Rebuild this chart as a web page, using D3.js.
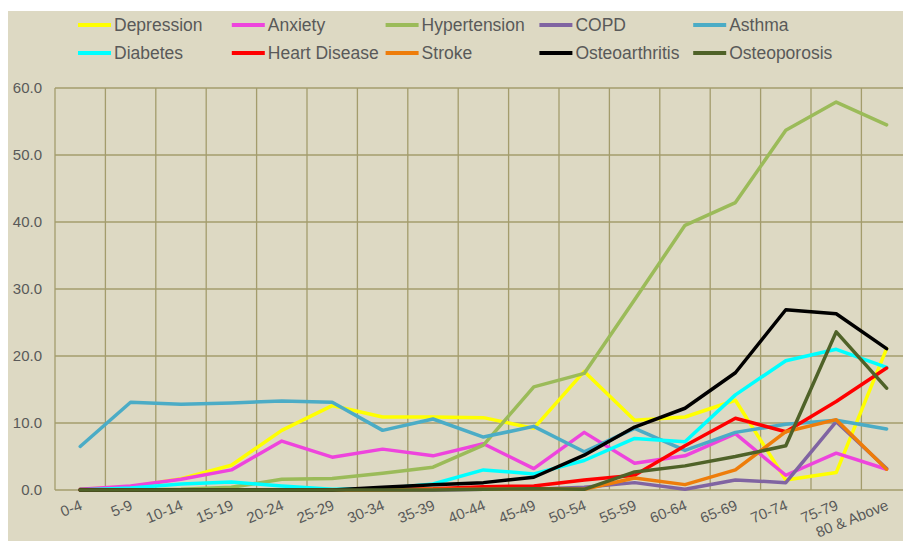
<!DOCTYPE html>
<html lang="en">
<head>
    <meta charset="UTF-8">
    <title>Conditions by age group</title>
    <script src="https://d3js.org/d3.v7.min.js"></script>
    <style>
        body { margin: 0; background: #ffffff; }
        svg { display: block; font-family: "Liberation Sans", Arial, sans-serif; }
    </style>
</head>
<body>
<div id="chart"></div>
<script>
    var ageGroups = ["0-4", "5-9", "10-14", "15-19", "20-24", "25-29", "30-34", "35-39", "40-44",
        "45-49", "50-54", "55-59", "60-64", "65-69", "70-74", "75-79", "80 & Above"];
    var yTicks = [0, 10, 20, 30, 40, 50, 60];

    var depression     = [0.1, 0.5, 1.7, 3.7, 8.9, 12.6, 10.9, 10.9, 10.8, 9.2, 17.7, 10.4, 10.9, 13.4, 1.5, 2.6, 21.1];
    var anxiety        = [0.1, 0.6, 1.6, 3.0, 7.3, 4.9, 6.1, 5.1, 6.9, 3.2, 8.6, 4.0, 5.1, 8.4, 2.2, 5.5, 3.1];
    var hypertension   = [0.0, 0.0, 0.1, 0.4, 1.6, 1.7, 2.5, 3.4, 6.7, 15.4, 17.4, 28.4, 39.5, 42.9, 53.7, 57.9, 54.5];
    var copd           = [0.1, 0.0, 0.0, 0.0, 0.0, 0.0, 0.0, 0.0, 0.1, 0.1, 0.4, 1.1, 0.1, 1.5, 1.1, 10.2, 3.2];
    var asthma         = [6.5, 13.1, 12.8, 13.0, 13.3, 13.1, 8.9, 10.6, 7.9, 9.5, 5.7, 9.2, 5.9, 8.6, 9.8, 10.4, 9.1];
    var diabetes       = [0.0, 0.3, 0.9, 1.2, 0.6, 0.1, 0.2, 0.9, 3.0, 2.4, 4.4, 7.7, 7.2, 14.2, 19.3, 21.0, 18.3];
    var heartDisease   = [0.0, 0.0, 0.0, 0.0, 0.0, 0.0, 0.1, 0.2, 0.5, 0.6, 1.5, 2.2, 6.6, 10.7, 8.7, 13.2, 18.2];
    var stroke         = [0.0, 0.0, 0.0, 0.0, 0.0, 0.0, 0.0, 0.1, 0.1, 0.2, 0.1, 1.8, 0.8, 3.0, 8.7, 10.5, 3.1];
    var osteoarthritis = [0.0, 0.0, 0.0, 0.0, 0.0, 0.0, 0.4, 0.8, 1.1, 1.9, 5.2, 9.4, 12.2, 17.5, 26.9, 26.3, 21.1];
    var osteoporosis   = [0.0, 0.0, 0.0, 0.0, 0.0, 0.0, 0.0, 0.0, 0.1, 0.2, 0.1, 2.7, 3.6, 5.0, 6.6, 23.6, 15.2];

    var seriesNames  = ["Depression", "Anxiety", "Hypertension", "COPD", "Asthma",
        "Diabetes", "Heart Disease", "Stroke", "Osteoarthritis", "Osteoporosis"];
    var seriesValues = [depression, anxiety, hypertension, copd, asthma,
        diabetes, heartDisease, stroke, osteoarthritis, osteoporosis];
    var seriesColors = ["#ffff00", "#ee44dd", "#9bbb59", "#8064a2", "#4bacc6",
        "#00ffff", "#ff0000", "#ee7d0a", "#000000", "#4f6228"];

    var width = 903, height = 541;
    var textColor = "#595959";
    var gridColor = "#a39c6c";

    var svg = d3.select("#chart").append("svg")
        .attr("width", width)
        .attr("height", height);

    // chart background (white strip on top and left, like the original)
    svg.append("rect")
        .attr("x", 8)
        .attr("y", 11)
        .attr("width", width - 8)
        .attr("height", height - 11)
        .style("fill", "#ddd9c3");

    var x = d3.scaleBand()
        .domain(ageGroups)
        .range([55, 55 + 50.4 * ageGroups.length])
        .paddingInner(0)
        .paddingOuter(0);

    var y = d3.scaleLinear()
        .domain([0, 60])
        .range([490, 88]);

    var grid = svg.append("g");

    // horizontal gridlines
    grid.selectAll("line.h")
        .data(yTicks)
        .enter().append("line")
        .attr("class", "h")
        .attr("x1", x.range()[0])
        .attr("x2", x.range()[1])
        .attr("y1", function(d) { return y(d); })
        .attr("y2", function(d) { return y(d); })
        .style("stroke", gridColor)
        .style("stroke-width", 1.3);

    // vertical gridlines on the band edges
    grid.selectAll("line.v")
        .data(ageGroups)
        .enter().append("line")
        .attr("class", "v")
        .attr("x1", function(d) { return x(d); })
        .attr("x2", function(d) { return x(d); })
        .attr("y1", y(60))
        .attr("y2", y(0))
        .style("stroke", gridColor)
        .style("stroke-width", 1.3);

    var axisLeft = d3.axisLeft(y)
        .tickValues(yTicks)
        .tickSize(0)
        .tickPadding(0)
        .tickFormat(d3.format(".1f"));

    var gy = svg.append("g")
        .attr("transform", "translate(42,0)")
        .call(axisLeft);
    gy.select(".domain").remove();
    gy.selectAll("text")
        .style("font-size", "15px")
        .style("font-family", "Liberation Sans, Arial, sans-serif")
        .style("fill", textColor);

    var axisBottom = d3.axisBottom(x)
        .tickSize(0);

    var gx = svg.append("g")
        .attr("transform", "translate(0,490)")
        .call(axisBottom);
    gx.select(".domain").remove();
    gx.selectAll("text")
        .attr("x", 0)
        .attr("y", 0)
        .attr("dy", 0)
        .attr("text-anchor", "end")
        .attr("transform", "translate(3,19) rotate(-22)")
        .style("font-size", "15px")
        .style("font-family", "Liberation Sans, Arial, sans-serif")
        .style("fill", textColor);

    var line = d3.line()
        .x(function(d, i) { return x(ageGroups[i]) + x.bandwidth() / 2; })
        .y(function(d) { return y(d); });

    seriesValues.forEach(function(values, idx) {
        svg.append("path")
            .datum(values)
            .attr("d", line)
            .style("fill", "none")
            .style("stroke", seriesColors[idx])
            .style("stroke-width", 3.5)
            .style("stroke-linejoin", "round")
            .style("stroke-linecap", "round");
    });

    // legend, two rows of five
    var legend = svg.append("g");
    seriesNames.forEach(function(name, idx) {
        var col = idx % 5;
        var row = Math.floor(idx / 5);
        var lx = 78 + col * 153.8;
        var ly = 25 + row * 28;
        var item = legend.append("g")
            .attr("transform", "translate(" + lx + "," + ly + ")");
        item.append("line")
            .attr("x1", 0)
            .attr("x2", 33)
            .attr("y1", 0)
            .attr("y2", 0)
            .style("stroke", seriesColors[idx])
            .style("stroke-width", 4);
        item.append("text")
            .attr("x", 36)
            .attr("y", 0)
            .attr("dy", "0.35em")
            .style("font-size", "17.5px")
            .style("fill", textColor)
            .text(name);
    });
</script>
</body>
</html>
